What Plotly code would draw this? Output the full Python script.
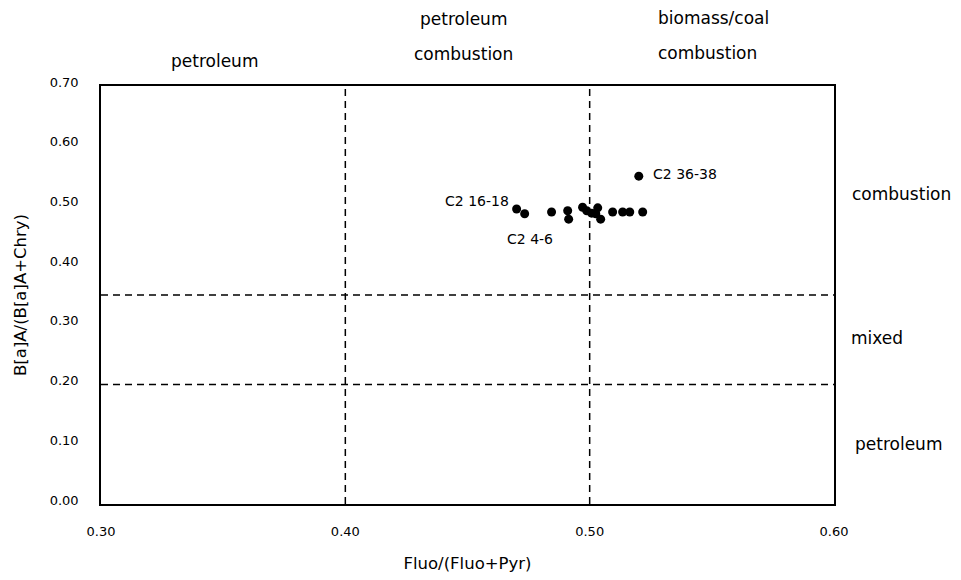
import plotly.graph_objects as go

# Data: Fluo/(Fluo+Pyr) vs B[a]A/(B[a]A+Chry)
fluo_ratio = [0.4701, 0.4734, 0.4844, 0.4910, 0.4914, 0.4971, 0.4988, 0.5008,
              0.5033, 0.5025, 0.5045, 0.5094, 0.5135, 0.5164, 0.5217, 0.5201]
baa_ratio = [0.494, 0.486, 0.489, 0.491, 0.477, 0.497, 0.491, 0.487,
             0.496, 0.486, 0.477, 0.489, 0.489, 0.489, 0.489, 0.549]
point_labels = ["C2 16-18", "C2 4-6", "", "", "", "", "", "",
                "", "", "", "", "", "", "", "C2 36-38"]

x_ticks = [0.30, 0.40, 0.50, 0.60]
y_ticks = [0.00, 0.10, 0.20, 0.30, 0.40, 0.50, 0.60, 0.70]
x_thresholds = [0.40, 0.50]
y_thresholds = [0.20, 0.35]

FONT = "DejaVu Sans"

fig = go.Figure()
fig.add_trace(go.Scatter(
    x=fluo_ratio, y=baa_ratio, mode="markers",
    marker=dict(color="black", size=9),
    showlegend=False, cliponaxis=False,
))

shapes = []
for xv in x_thresholds:
    shapes.append(dict(type="line", xref="x", yref="y", x0=xv, x1=xv, y0=0, y1=0.70,
                       line=dict(color="black", width=1.5, dash="7px,5px")))
for yv in y_thresholds:
    shapes.append(dict(type="line", xref="x", yref="y", x0=0.30, x1=0.60, y0=yv, y1=yv,
                       line=dict(color="black", width=1.5, dash="7px,5px")))

annotations = []
# point labels
offsets = {"C2 16-18": dict(xanchor="right", yanchor="middle", xshift=-6, yshift=8),
           "C2 4-6": dict(xanchor="center", yanchor="middle", xshift=5, yshift=-25),
           "C2 36-38": dict(xanchor="left", yanchor="middle", xshift=12, yshift=2)}
for xv, yv, lab in zip(fluo_ratio, baa_ratio, point_labels):
    if lab:
        annotations.append(dict(x=xv, y=yv, xref="x", yref="y", text=lab, showarrow=False,
                                font=dict(family=FONT, size=14, color="black"), **offsets[lab]))

region_font = dict(family=FONT, size=17, color="black")


def region(x, y, text, xanchor="center"):
    return dict(x=x, y=y, xref="paper", yref="paper", text=text, showarrow=False,
                xanchor=xanchor, yanchor="middle", font=region_font)


# top region labels
annotations += [
    region(0.1555, 1.060, "petroleum"),
    region(0.495, 1.160, "petroleum"),
    region(0.495, 1.077, "combustion"),
    region(0.835, 1.163, "biomass/coal"),
    region(0.827, 1.079, "combustion"),
]
# right region labels
annotations += [
    region(1.022, 0.742, "combustion", "left"),
    region(1.021, 0.397, "mixed", "left"),
    region(1.026, 0.1435, "petroleum", "left"),
]

fig.update_layout(
    width=961, height=580,
    margin=dict(l=93, r=135, t=78, b=84),
    paper_bgcolor="white", plot_bgcolor="white",
    font=dict(family=FONT, size=13, color="black"),
    shapes=shapes, annotations=annotations,
    xaxis=dict(range=[0.30, 0.60], tickvals=x_ticks, ticktext=[f"{v:.2f}" for v in x_ticks],
               showgrid=False, zeroline=False, showline=True, mirror=True,
               linecolor="black", linewidth=1.5, ticks="", ticklabelstandoff=15,
               tickfont=dict(family=FONT, size=13),
               title=dict(text="Fluo/(Fluo+Pyr)", font=dict(family=FONT, size=16.5), standoff=19)),
    yaxis=dict(range=[0.0, 0.70], tickvals=y_ticks, ticktext=[f"{v:.2f}" for v in y_ticks],
               showgrid=False, zeroline=False, showline=True, mirror=True,
               linecolor="black", linewidth=1.5, ticks="", ticklabelstandoff=18,
               ticklabelshift=-4,
               tickfont=dict(family=FONT, size=13),
               title=dict(text="B[a]A/(B[a]A+Chry)", font=dict(family=FONT, size=16.5), standoff=19)),
)

fig.write_html("out.html")
